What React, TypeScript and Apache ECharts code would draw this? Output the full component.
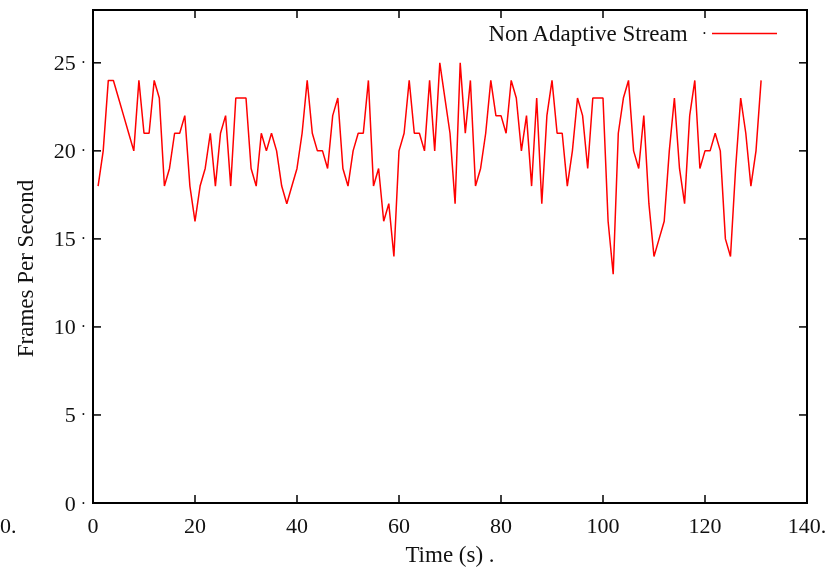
import React, { useEffect, useRef } from "react";
import * as echarts from "echarts";

// Frames per second measured once per second of the non adaptive stream.
const fps: number[] = [
  18, 20, 24, 24, 23, 22, 21, 20, 24, 21,
  21, 24, 23, 18, 19, 21, 21, 22, 18, 16,
  18, 19, 21, 18, 21, 22, 18, 23, 23, 23,
  19, 18, 21, 20, 21, 20, 18, 17, 18, 19,
  21, 24, 21, 20, 20, 19, 22, 23, 19, 18,
  20, 21, 21, 24, 18, 19, 16, 17, 14, 20,
  21, 24, 21, 21, 20, 24, 20, 25, 23, 21,
  17, 25, 21, 24, 18, 19, 21, 24, 22, 22,
  21, 24, 23, 20, 22, 18, 23, 17, 22, 24,
  21, 21, 18, 20, 23, 22, 19, 23, 23, 23,
  16, 13, 21, 23, 24, 20, 19, 22, 17, 14,
  15, 16, 20, 23, 19, 17, 22, 24, 19, 20,
  20, 21, 20, 15, 14, 19, 23, 21, 18, 20,
  24,
];

// Sample times in seconds (first sample at t = 1 s).
const seconds: number[] = fps.map((_, i) => i + 1);

const seriesName = "Non Adaptive Stream";
const xTitle = "Time (s) .";
const yTitle = "Frames Per Second";
const xRange = { min: 0, max: 140, step: 20 };
const yRange = { min: 0, max: 28, step: 5 };
const xTickValues = [0, 20, 40, 60, 80, 100, 120, 140];
const yTickValues = [0, 5, 10, 15, 20, 25];

const FONT = "'Liberation Serif', 'DejaVu Serif', serif";
const TICK_LEN = 8;

export default function App() {
  const ref = useRef<HTMLDivElement>(null);

  useEffect(() => {
    if (!ref.current) return;
    const chart = echarts.init(ref.current, undefined, { renderer: "svg" });

    // Inward ticks mirrored on all four sides of the frame, placed through the axes' scales.
    const xTicksItem = (_p: any, api: any) => {
      const v = api.value(0);
      const b = api.coord([v, yRange.min]);
      const t = api.coord([v, yRange.max]);
      return {
        type: "group",
        children: [
          { type: "line", shape: { x1: b[0], y1: b[1], x2: b[0], y2: b[1] - TICK_LEN }, style: { stroke: "#000", lineWidth: 1.5 } },
          { type: "line", shape: { x1: t[0], y1: t[1], x2: t[0], y2: t[1] + TICK_LEN }, style: { stroke: "#000", lineWidth: 1.5 } },
        ],
      };
    };
    const yTicksItem = (_p: any, api: any) => {
      const v = api.value(1);
      const l = api.coord([xRange.min, v]);
      const r = api.coord([xRange.max, v]);
      return {
        type: "group",
        children: [
          { type: "line", shape: { x1: l[0], y1: l[1], x2: l[0] + TICK_LEN, y2: l[1] }, style: { stroke: "#000", lineWidth: 1.5 } },
          { type: "line", shape: { x1: r[0], y1: r[1], x2: r[0] - TICK_LEN, y2: r[1] }, style: { stroke: "#000", lineWidth: 1.5 } },
        ],
      };
    };

    chart.setOption({
      animation: false,
      grid: {
        left: 93,
        right: 30,
        top: 10,
        bottom: 70,
        show: true,
        borderColor: "#000",
        borderWidth: 2,
        backgroundColor: "transparent",
      },
      legend: {
        right: 55,
        top: 17,
        align: "right",
        icon: "rect",
        itemWidth: 65,
        itemHeight: 1.5,
        data: [{ name: seriesName, itemStyle: { color: "#ff0000" } }],
        formatter: (name: string) => `${name}{d|·}`,
        textStyle: {
          fontFamily: FONT,
          fontSize: 23,
          color: "#111",
          rich: { d: { fontFamily: FONT, fontSize: 16, padding: [0, 0, 0, 14], color: "#111" } },
        },
      },
      xAxis: {
        type: "value",
        min: xRange.min,
        max: xRange.max,
        interval: xRange.step,
        name: xTitle,
        nameLocation: "middle",
        nameGap: 40,
        nameTextStyle: { fontFamily: FONT, fontSize: 23, color: "#111" },
        axisLine: { show: true, onZero: false, lineStyle: { color: "#000", width: 2 } },
        axisTick: { show: false },
        splitLine: { show: false },
        axisLabel: {
          margin: 11,
          fontFamily: FONT,
          fontSize: 22,
          color: "#111",
          formatter: (v: number) => (v === xRange.max ? `${v}.` : `${v}`),
        },
      },
      yAxis: {
        type: "value",
        min: yRange.min,
        max: yRange.max,
        interval: yRange.step,
        name: yTitle,
        nameLocation: "middle",
        nameRotate: 90,
        nameGap: 56,
        nameTextStyle: { fontFamily: FONT, fontSize: 23, color: "#111", padding: [0, 24, 0, 0] },
        axisLine: { show: true, onZero: false, lineStyle: { color: "#000", width: 2 } },
        axisTick: { show: false },
        splitLine: { show: false },
        axisLabel: {
          margin: 7,
          fontFamily: FONT,
          fontSize: 22,
          color: "#111",
          formatter: (v: number) => (v % yRange.step === 0 ? `${v}{d|·}` : ""),
          rich: { d: { fontFamily: FONT, fontSize: 16, padding: [0, 0, 0, 5], color: "#111" } },
        },
      },
      graphic: [
        {
          type: "text",
          left: 0,
          top: 514,
          style: { text: "0.", font: `22px ${FONT}`, fill: "#111" },
        },
      ],
      series: [
        {
          name: seriesName,
          type: "line",
          data: seconds.map((t, i) => [t, fps[i]]),
          showSymbol: false,
          symbol: "none",
          lineStyle: { color: "#ff0000", width: 1.5 },
          itemStyle: { color: "#ff0000" },
        },
        {
          name: "xTicks",
          type: "custom",
          clip: false,
          silent: true,
          data: xTickValues.map((v) => [v, yRange.min]),
          renderItem: xTicksItem,
          z: 10,
        },
        {
          name: "yTicks",
          type: "custom",
          clip: false,
          silent: true,
          data: yTickValues.map((v) => [xRange.min, v]),
          renderItem: yTicksItem,
          z: 10,
        },
      ],
    });

    return () => chart.dispose();
  }, []);

  return (
    <div
      ref={ref}
      style={{ position: "fixed", left: 0, top: 0, width: 837, height: 573 }}
    />
  );
}
